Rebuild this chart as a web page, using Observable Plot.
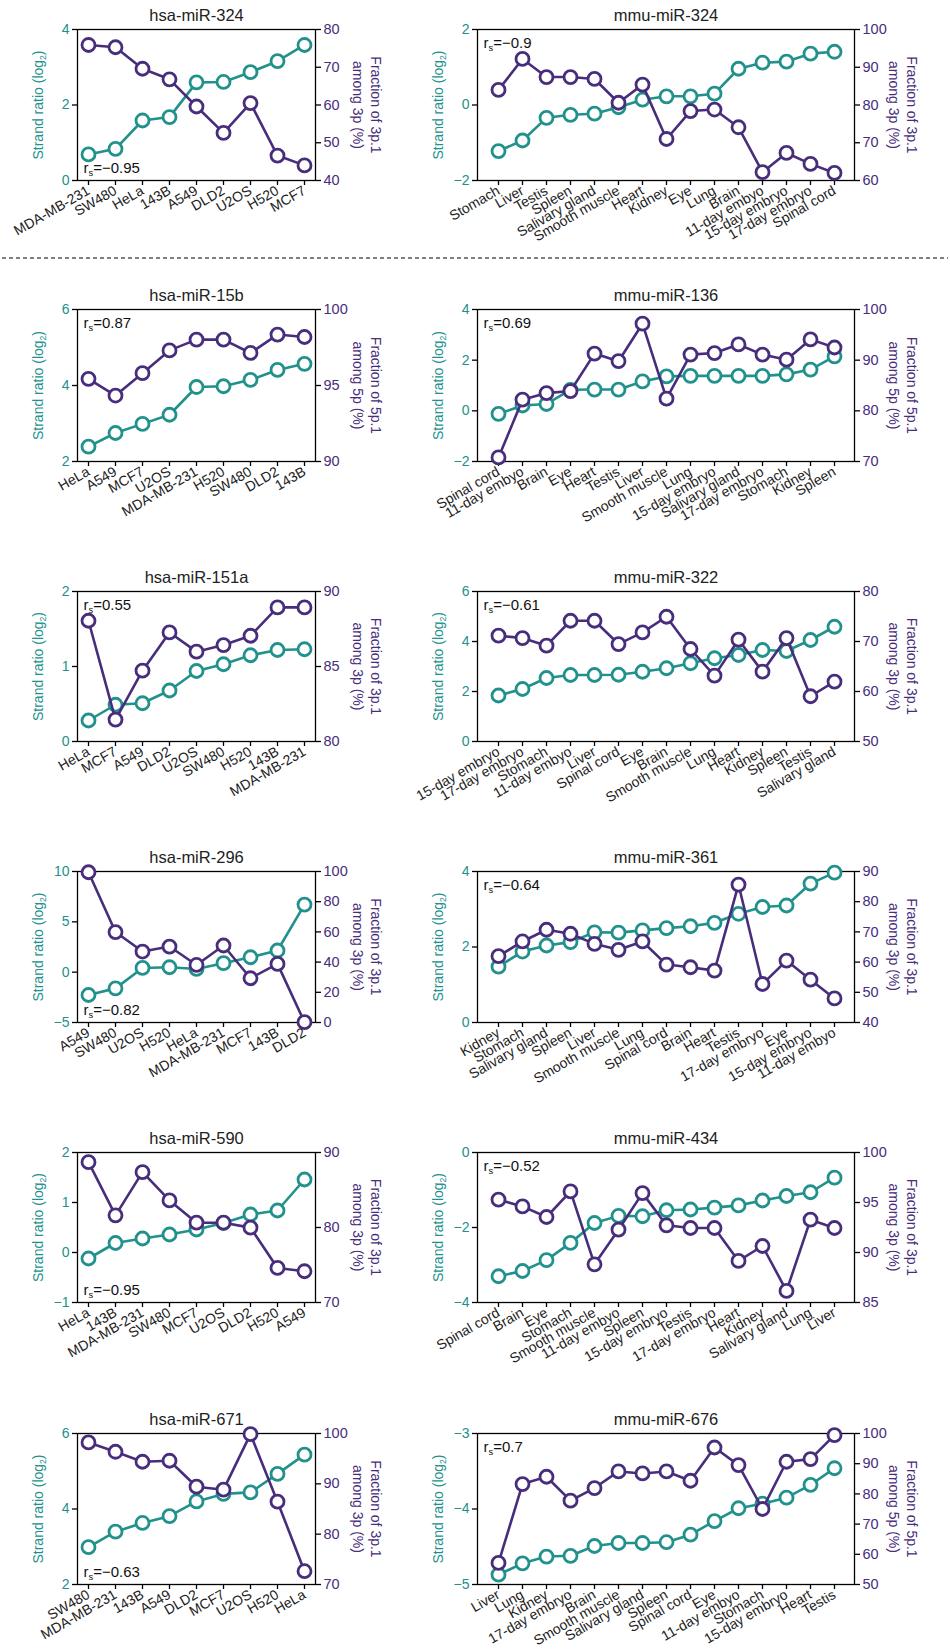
<!DOCTYPE html>
<html><head><meta charset="utf-8">
<script src="https://cdn.jsdelivr.net/npm/d3@7"></script>
<script src="https://cdn.jsdelivr.net/npm/@observablehq/plot@0.6"></script>
<style>
body{margin:0;background:#fff;overflow:hidden}
#root{position:relative;width:950px;height:1652px;overflow:hidden;font-family:"Liberation Sans",Arial,sans-serif}
.panel{position:absolute}
</style></head><body><div id="root"></div>
<script>
const TEAL = "#21918c", PURPLE = "#472d7b";

// ---------- data ----------
const hsa324_cats = ["MDA-MB-231","SW480","HeLa","143B","A549","DLD2","U2OS","H520","MCF7"];
const hsa324_ratio = [0.69,0.84,1.59,1.68,2.60,2.61,2.87,3.16,3.59];
const hsa324_frac = [75.9,75.3,69.6,66.8,59.6,52.6,60.5,46.6,44.0];

const mmu324_cats = ["Stomach","Liver","Testis","Spleen","Salivary gland","Smooth muscle","Heart","Kidney","Eye","Lung","Brain","11-day embyo","15-day embryo","17-day embryo","Spinal cord"];
const mmu324_ratio = [-1.22,-0.94,-0.34,-0.26,-0.23,-0.06,0.14,0.23,0.23,0.30,0.96,1.12,1.15,1.36,1.41];
const mmu324_frac = [84.0,92.2,87.4,87.4,86.9,80.6,85.4,71.0,78.4,78.8,74.1,62.2,67.3,64.4,62.0];

const hsa15b_cats = ["HeLa","A549","MCF7","U2OS","MDA-MB-231","H520","SW480","DLD2","143B"];
const hsa15b_ratio = [2.39,2.75,2.99,3.23,3.96,3.98,4.15,4.41,4.57];
const hsa15b_frac = [95.44,94.34,95.81,97.31,98.02,98.02,97.14,98.35,98.19];

const mmu136_cats = ["Spinal cord","11-day embyo","Brain","Eye","Heart","Testis","Liver","Smooth muscle","Lung","15-day embryo","Salivary gland","17-day embryo","Stomach","Kidney","Spleen"];
const mmu136_ratio = [-0.12,0.21,0.27,0.83,0.84,0.84,1.16,1.36,1.38,1.38,1.38,1.38,1.44,1.63,2.15];
const mmu136_frac = [70.8,82.2,83.5,83.9,91.3,89.8,97.2,82.4,91.1,91.4,93.1,91.1,90.1,94.1,92.5];

const hsa151a_cats = ["HeLa","MCF7","A549","DLD2","U2OS","SW480","H520","143B","MDA-MB-231"];
const hsa151a_ratio = [0.28,0.49,0.51,0.68,0.94,1.03,1.15,1.22,1.23];
const hsa151a_frac = [88.05,81.46,84.72,87.27,85.99,86.43,87.05,88.94,88.94];

const mmu322_cats = ["15-day embryo","17-day embryo","Stomach","11-day embyo","Liver","Spinal cord","Eye","Brain","Smooth muscle","Lung","Heart","Kidney","Spleen","Testis","Salivary gland"];
const mmu322_ratio = [1.84,2.10,2.54,2.66,2.66,2.67,2.79,2.93,3.13,3.33,3.46,3.66,3.62,4.06,4.59];
const mmu322_frac = [71.16,70.69,69.16,74.15,74.15,69.49,71.82,74.95,68.50,63.17,70.36,63.97,70.69,59.05,61.98];

const hsa296_cats = ["A549","SW480","U2OS","H520","HeLa","MDA-MB-231","MCF7","143B","DLD2"];
const hsa296_ratio = [-2.27,-1.61,0.42,0.49,0.32,0.89,1.48,2.15,6.71];
const hsa296_frac = [99.5,59.9,47.0,50.3,38.1,51.0,29.3,38.8,0.2];

const mmu361_cats = ["Kidney","Stomach","Salivary gland","Spleen","Liver","Smooth muscle","Lung","Spinal cord","Brain","Heart","Testis","17-day embryo","Eye","15-day embryo","11-day embyo"];
const mmu361_ratio = [1.48,1.88,2.04,2.13,2.39,2.38,2.44,2.50,2.55,2.64,2.88,3.06,3.10,3.68,3.97];
const mmu361_frac = [61.95,66.83,70.71,69.38,66.05,64.06,66.83,59.18,58.29,57.18,85.68,52.75,60.51,54.19,47.98];

const hsa590_cats = ["HeLa","143B","MDA-MB-231","SW480","MCF7","U2OS","DLD2","H520","A549"];
const hsa590_ratio = [-0.12,0.19,0.28,0.36,0.46,0.59,0.76,0.84,1.46];
const hsa590_frac = [88.71,81.62,87.38,83.61,80.64,80.64,79.98,74.61,74.17];

const mmu434_cats = ["Spinal cord","Brain","Eye","Stomach","Smooth muscle","11-day embyo","Spleen","15-day embryo","Testis","17-day embryo","Heart","Kidney","Salivary gland","Lung","Liver"];
const mmu434_ratio = [-3.30,-3.16,-2.87,-2.41,-1.88,-1.69,-1.70,-1.54,-1.52,-1.47,-1.41,-1.28,-1.16,-1.06,-0.67];
const mmu434_frac = [95.28,94.61,93.55,96.11,88.82,92.28,95.94,92.72,92.45,92.45,89.16,90.65,86.16,93.28,92.45];

const hsa671_cats = ["SW480","MDA-MB-231","143B","A549","DLD2","MCF7","U2OS","H520","HeLa"];
const hsa671_ratio = [2.99,3.40,3.63,3.81,4.20,4.40,4.44,4.93,5.44];
const hsa671_frac = [98.22,96.37,94.39,94.59,89.43,88.84,99.87,86.46,72.64];

const mmu676_cats = ["Liver","Lung","Kidney","17-day embryo","Brain","Smooth muscle","Salivary gland","Spleen","Spinal cord","Eye","11-day embyo","Stomach","15-day embryo","Heart","Testis"];
const mmu676_ratio = [-4.87,-4.72,-4.63,-4.62,-4.49,-4.45,-4.45,-4.44,-4.34,-4.16,-3.99,-3.93,-3.85,-3.68,-3.46];
const mmu676_frac = [57.16,83.26,85.68,77.75,81.94,87.44,86.78,87.44,84.36,95.37,89.54,75.0,90.64,91.52,99.45];

const titles = ["hsa-miR-324","mmu-miR-324","hsa-miR-15b","mmu-miR-136","hsa-miR-151a","mmu-miR-322","hsa-miR-296","mmu-miR-361","hsa-miR-590","mmu-miR-434","hsa-miR-671","mmu-miR-676"];
const rsLabels = ["−0.95","−0.9","0.87","0.69","0.55","−0.61","−0.82","−0.64","−0.95","−0.52","−0.63","0.7"];
const rsPlace = ["bottom","top","top","top","top","top","bottom","top","bottom","top","bottom","top"];
const strands = ["3p","3p","5p","5p","3p","3p","3p","3p","3p","3p","3p","5p"];
const leftTicks = [[0,2,4],[-2,0,2],[2,4,6],[-2,0,2,4],[0,1,2],[0,2,4,6],[-5,0,5,10],[0,2,4],[-1,0,1,2],[-4,-2,0],[2,4,6],[-5,-4,-3]];
const rightTicks = [[40,50,60,70,80],[60,70,80,90,100],[90,95,100],[70,80,90,100],[80,85,90],[50,60,70,80],[0,20,40,60,80,100],[40,50,60,70,80,90],[70,80,90],[85,90,95,100],[70,80,90,100],[50,60,70,80,90,100]];

const series = [
  [hsa324_cats,hsa324_ratio,hsa324_frac],[mmu324_cats,mmu324_ratio,mmu324_frac],
  [hsa15b_cats,hsa15b_ratio,hsa15b_frac],[mmu136_cats,mmu136_ratio,mmu136_frac],
  [hsa151a_cats,hsa151a_ratio,hsa151a_frac],[mmu322_cats,mmu322_ratio,mmu322_frac],
  [hsa296_cats,hsa296_ratio,hsa296_frac],[mmu361_cats,mmu361_ratio,mmu361_frac],
  [hsa590_cats,hsa590_ratio,hsa590_frac],[mmu434_cats,mmu434_ratio,mmu434_frac],
  [hsa671_cats,hsa671_ratio,hsa671_frac],[mmu676_cats,mmu676_ratio,mmu676_frac]
];

// ---------- layout ----------
const rowTop = [29, 309, 591, 871, 1152, 1433];
const rowH = [151, 152, 150, 151, 150, 151];
const FONT = '"Liberation Sans", Arial, sans-serif';
const root = document.getElementById("root");
const fmt = d => (d < 0 ? "−" + (-d) : String(d));

function subscriptify(svg) {
  svg.querySelectorAll("text").forEach(t => {
    const s = t.textContent;
    if (!s.includes("§")) return;
    const [a, b] = s.split("§");
    t.textContent = "";
    t.appendChild(document.createTextNode(a));
    const sub = document.createElementNS("http://www.w3.org/2000/svg", "tspan");
    sub.setAttribute("font-size", "0.62em");
    sub.setAttribute("dy", "0.35em");
    sub.textContent = b[0];
    t.appendChild(sub);
    const rest = document.createElementNS("http://www.w3.org/2000/svg", "tspan");
    rest.setAttribute("dy", "-0.217em");
    rest.textContent = b.slice(1);
    t.appendChild(rest);
  });
}

titles.forEach((title, k) => {
  const row = Math.floor(k / 2), col = k % 2;
  const [cats, ratio, frac] = series[k];
  const lt = leftTicks[k], rt = rightTicks[k];
  const lo = lt[0], hi = lt[lt.length - 1];
  const rlo = rt[0], rhi = rt[rt.length - 1];
  const f = v => lo + (v - rlo) / (rhi - rlo) * (hi - lo);
  const finv = d => Math.round((rlo + (d - lo) / (hi - lo) * (rhi - rlo)) * 1000) / 1000;
  const data = cats.map((c, i) => ({c, ratio: ratio[i], frac: f(frac[i])}));
  const W = col === 0 ? 400 : 550;
  const mT = 29, mB = 100, mL = 77, mR = col === 0 ? 85 : 96;
  const H = mT + rowH[row] + mB;
  const top = rsPlace[k] === "top";
  const st = strands[k];

  const svg = Plot.plot({
    width: W, height: H,
    marginTop: mT, marginBottom: mB, marginLeft: mL, marginRight: mR,
    style: {fontFamily: FONT, fontSize: "14px", background: "transparent", overflow: "visible", color: "#000"},
    x: {type: "point", domain: cats, inset: col === 0 ? 10.5 : 16.5, padding: 0},
    y: {domain: [lo, hi]},
    marks: [
      Plot.frame({stroke: "#000", strokeWidth: 1.3}),
      Plot.axisY(lt, {anchor: "left", tickSize: 5, tickPadding: 3, stroke: "#000", strokeWidth: 1.3, fill: TEAL, label: null, tickFormat: fmt, fontSize: 14}),
      Plot.axisY(rt.map(f), {anchor: "right", tickSize: 5, tickPadding: 3, stroke: "#000", strokeWidth: 1.3, fill: PURPLE, label: null, tickFormat: d => String(finv(d)), fontSize: 14.5}),
      Plot.axisX({tickRotate: -30, tickSize: 5, tickPadding: 4, stroke: "#000", strokeWidth: 1.3, fill: "#222", label: null, fontSize: 14}),
      Plot.text([title], {text: d => d, frameAnchor: "top", dy: -13.3, fontSize: 16.5, fill: "#222", textAnchor: "middle", lineAnchor: "middle"}),
      Plot.text([`r§s=${rsLabels[k]}`], {text: d => d, frameAnchor: top ? "top-left" : "bottom-left", textAnchor: "start", lineAnchor: "middle", dx: 6, dy: top ? 13.5 : -12.5, fontSize: 15, fill: "#111"}),
      Plot.text(["Strand ratio (log§2)"], {text: d => d, frameAnchor: "left", rotate: -90, dx: -39, textAnchor: "middle", lineAnchor: "middle", fontSize: 14, fill: TEAL}),
      Plot.text([`Fraction of ${st}.1\namong ${st} (%)`], {text: d => d, frameAnchor: "right", rotate: 90, dx: col === 0 ? 52 : 49, textAnchor: "middle", lineAnchor: "middle", lineHeight: 1.3, fontSize: 14, fill: PURPLE}),
      Plot.line(data, {x: "c", y: "ratio", stroke: TEAL, strokeWidth: 2.6}),
      Plot.dot(data, {x: "c", y: "ratio", r: 6.5, stroke: TEAL, fill: "white", strokeWidth: 2.8}),
      Plot.line(data, {x: "c", y: "frac", stroke: PURPLE, strokeWidth: 2.6}),
      Plot.dot(data, {x: "c", y: "frac", r: 6.5, stroke: PURPLE, fill: "white", strokeWidth: 2.8})
    ]
  });
  subscriptify(svg);
  svg.classList.add("panel");
  svg.style.left = (col === 0 ? 0 : 400) + "px";
  svg.style.top = (rowTop[row] - mT) + "px";
  root.appendChild(svg);
});

// dashed separator between first row and the rest
const sep = d3.select(root).append("svg").attr("class", "panel")
  .style("left", "0px").style("top", "256px").attr("width", 950).attr("height", 4);
sep.append("line").attr("x1", 2).attr("x2", 948).attr("y1", 2).attr("y2", 2)
  .attr("stroke", "#000").attr("stroke-width", 1).attr("stroke-dasharray", "4,3");
</script></body></html>
